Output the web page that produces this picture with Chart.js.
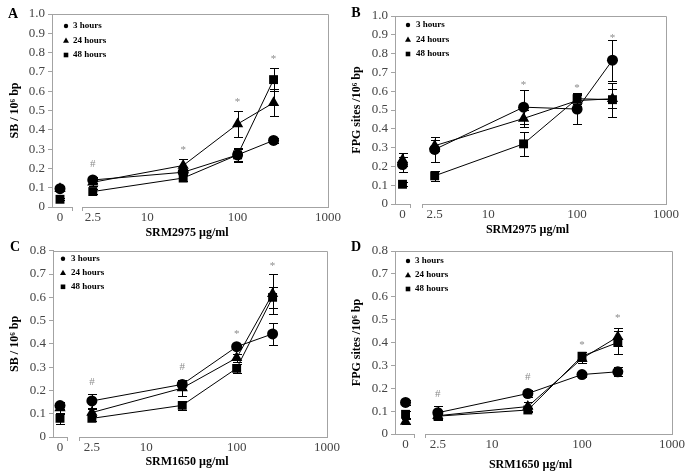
<!DOCTYPE html>
<html>
<head>
<meta charset="utf-8">
<script src="https://cdn.jsdelivr.net/npm/chart.js@4.4.1/dist/chart.umd.min.js"></script>
<style>
  body { margin: 0; background: #fff; width: 685px; height: 474px; position: relative; overflow: hidden; }
  canvas { position: absolute; }
</style>
</head>
<body>
<script>
// doses (µg/ml) - first one sits on the short "0" segment of the broken axis
const doses = [0, 2.5, 25, 100, 250];
const seriesLabels = ['3 hours', '24 hours', '48 hours'];
const logTicks = [2.5, 10, 100, 1000];

// A: SB / 10^6 bp, SRM2975
const sbSrm2975_3h = [0.095, 0.14, 0.18, 0.27, 0.345];
const sbSrm2975_3hErr = [0.012, 0.015, 0.015, 0.03, 0.015];
const sbSrm2975_24h = [0.095, 0.128, 0.215, 0.43, 0.54];
const sbSrm2975_24hErr = [0.01, 0.02, 0.035, 0.065, 0.07];
const sbSrm2975_48h = [0.04, 0.08, 0.15, 0.27, 0.66];
const sbSrm2975_48hErr = [0.005, 0.012, 0.015, 0.035, 0.06];
const sigA = [['#', 2.5, 0.22], ['*', 25, 0.31], ['*', 100, 0.56], ['*', 250, 0.78]];

// B: FPG sites / 10^6 bp, SRM2975
const fpgSrm2975_3h = [0.21, 0.29, 0.515, 0.505, 0.765];
const fpgSrm2975_3hErr = [0.04, 0.065, 0.09, 0.08, 0.11];
const fpgSrm2975_24h = [0.235, 0.31, 0.455, 0.55, 0.56];
const fpgSrm2975_24hErr = [0.035, 0.03, 0.045, 0.03, 0.05];
const fpgSrm2975_48h = [0.105, 0.15, 0.32, 0.56, 0.555];
const fpgSrm2975_48hErr = [0.01, 0.025, 0.065, 0.03, 0.09];
const sigB = [['*', 25, 0.65], ['*', 100, 0.63], ['*', 250, 0.90]];

// C: SB / 10^6 bp, SRM1650
const sbSrm1650_3h = [0.135, 0.155, 0.226, 0.388, 0.443];
const sbSrm1650_3hErr = [0.015, 0.03, 0.02, 0.006, 0.048];
const sbSrm1650_24h = [0.125, 0.105, 0.21, 0.34, 0.615];
const sbSrm1650_24hErr = [0.025, 0.015, 0.035, 0.018, 0.085];
const sbSrm1650_48h = [0.08, 0.08, 0.136, 0.295, 0.60];
const sbSrm1650_48hErr = [0.025, 0.01, 0.02, 0.02, 0.045];
const sigC = [['#', 2.5, 0.235], ['#', 25, 0.3], ['*', 100, 0.455], ['*', 250, 0.745]];

// D: FPG sites / 10^6 bp, SRM1650
const fpgSrm1650_3h = [0.138, 0.093, 0.177, 0.26, 0.272];
const fpgSrm1650_3hErr = [0.01, 0.03, 0.015, 0.01, 0.02];
const fpgSrm1650_24h = [0.055, 0.08, 0.12, 0.33, 0.425];
const fpgSrm1650_24hErr = [0.01, 0.015, 0.02, 0.02, 0.04];
const fpgSrm1650_48h = [0.086, 0.078, 0.105, 0.34, 0.40];
const fpgSrm1650_48hErr = [0.015, 0.01, 0.01, 0.02, 0.05];
const sigD = [['#', 2.5, 0.175], ['#', 25, 0.25], ['*', 100, 0.40], ['*', 250, 0.52]];

const SERIF = "'Liberation Serif', 'Times New Roman', serif";
const GRAY = '#a3a3a3';
const markerStyles = [
  { pointStyle: 'circle', radius: 5.5, order: 0 },
  { pointStyle: 'triangle', radius: 6.5, order: 2 },
  { pointStyle: 'rect', radius: 6.3, order: 1 }
];

function seriesSets(idx, means, errs) {
  const st = markerStyles[idx];
  const pts = doses.map((d, i) => ({ x: d, y: means[i], err: errs[i] }));
  const common = {
    label: seriesLabels[idx], pointStyle: st.pointStyle, pointRadius: st.radius,
    backgroundColor: '#000', borderColor: '#000', borderWidth: 1,
    pointBorderWidth: 0, pointBackgroundColor: '#000', order: st.order
  };
  return [
    Object.assign({}, common, { data: [pts[0]], xAxisID: 'x0', showLine: false }),
    Object.assign({}, common, { data: pts.slice(1), xAxisID: 'x' })
  ];
}

// error bars drawn from each point's err value through the y scale
const errorBars = {
  id: 'errorBars',
  afterDatasetsDraw(chart) {
    const ctx = chart.ctx, ys = chart.scales.y;
    ctx.save();
    ctx.strokeStyle = '#000';
    ctx.lineWidth = 1;
    chart.data.datasets.forEach((ds, i) => {
      chart.getDatasetMeta(i).data.forEach((el, j) => {
        const v = ds.data[j];
        const x = Math.round(el.x) + 0.5;
        const t = Math.round(ys.getPixelForValue(v.y + v.err)) + 0.5;
        const b = Math.round(ys.getPixelForValue(v.y - v.err)) + 0.5;
        ctx.beginPath();
        ctx.moveTo(x, t); ctx.lineTo(x, b);
        ctx.moveTo(x - 4.5, t); ctx.lineTo(x + 4.5, t);
        ctx.moveTo(x - 4.5, b); ctx.lineTo(x + 4.5, b);
        ctx.stroke();
      });
    });
    ctx.restore();
  }
};

function drawMarker(ctx, style, x, y) {
  ctx.beginPath();
  if (style === 'circle') {
    ctx.arc(x, y, 2.2, 0, Math.PI * 2);
  } else if (style === 'triangle') {
    ctx.moveTo(x, y - 3); ctx.lineTo(x + 3, y + 2.2); ctx.lineTo(x - 3, y + 2.2); ctx.closePath();
  } else {
    ctx.rect(x - 2.3, y - 2.3, 4.6, 4.6);
  }
  ctx.fill();
}

function makePanel(p) {
  const [bx, by, bw, bh] = p.box;
  const cv = document.createElement('canvas');
  cv.width = bw; cv.height = bh;
  cv.style.left = bx + 'px'; cv.style.top = by + 'px';
  document.body.appendChild(cv);

  const seg0 = p.x0End - p.L, gap = p.logStart - p.x0End, segLog = p.R - p.logStart;
  const axisH = by + bh - p.B;

  const decor = {
    id: 'decor',
    beforeDatasetsDraw(chart) {
      const ctx = chart.ctx, a = chart.chartArea;
      ctx.save();
      ctx.strokeStyle = GRAY;
      ctx.lineWidth = 1;
      ctx.beginPath();
      ctx.moveTo(a.left, Math.round(a.top) + 0.5);
      ctx.lineTo(Math.round(a.right) + 0.5, Math.round(a.top) + 0.5);
      ctx.lineTo(Math.round(a.right) + 0.5, a.bottom);
      ctx.stroke();
      ctx.restore();
    },
    afterDraw(chart) {
      const ctx = chart.ctx, a = chart.chartArea;
      const xs = chart.scales.x, ys = chart.scales.y;
      ctx.save();
      // panel letter
      ctx.fillStyle = '#000';
      ctx.font = 'bold 14px ' + SERIF;
      ctx.textAlign = 'center';
      ctx.textBaseline = 'middle';
      ctx.fillText(p.letter, p.letterPos[0], p.letterPos[1]);
      // x title
      ctx.font = 'bold 12px ' + SERIF;
      ctx.fillText(p.xTitle, (a.left + a.right) / 2 - 3, p.xTitleY);
      // legend
      ctx.font = 'bold 9px ' + SERIF;
      ctx.textAlign = 'left';
      seriesLabels.forEach((lab, i) => {
        const y = a.top + p.legend.y0 + i * p.legend.dy;
        drawMarker(ctx, markerStyles[i].pointStyle, a.left + p.legend.mx, y);
        ctx.fillText(lab, a.left + p.legend.tx, y);
      });
      // significance marks
      ctx.fillStyle = '#8c8c8c';
      ctx.font = '11px ' + SERIF;
      ctx.textAlign = 'center';
      p.sig.forEach(([t, xv, yv]) => {
        const px = xs.getPixelForValue(xv);
        const py = ys.getPixelForValue(yv);
        ctx.fillText(t, px, t === '*' ? py + 3 : py);
      });
      ctx.restore();
    }
  };

  const tickFont = { family: SERIF, size: 13 };
  return new Chart(cv, {
    type: 'line',
    data: {
      datasets: [
        ...seriesSets(0, p.s3, p.e3),
        ...seriesSets(1, p.s24, p.e24),
        ...seriesSets(2, p.s48, p.e48)
      ]
    },
    options: {
      responsive: false,
      animation: false,
      events: [],
      layout: { padding: { left: 0, top: p.T - by, right: bx + bw - p.R, bottom: 0 } },
      plugins: { legend: { display: false }, tooltip: { enabled: false } },
      scales: {
        y: {
          min: 0, max: p.yMax,
          ticks: { stepSize: 0.1, font: tickFont, color: '#444', padding: 3 },
          grid: { drawOnChartArea: false, tickLength: 4, color: GRAY },
          border: { color: GRAY },
          title: { display: true, text: p.yTitle, color: '#000', font: { family: SERIF, size: 12, weight: 'bold' }, padding: { top: 8, bottom: 0 } },
          afterFit(s) { s.width = p.L - bx; }
        },
        x0: {
          type: 'linear', position: 'bottom', stack: 'xs', stackWeight: seg0,
          min: -1, max: p.x0Max,
          afterBuildTicks(s) { s.ticks = [{ value: 0 }, { value: p.x0Max }]; },
          ticks: { font: tickFont, color: '#444', padding: -1, autoSkip: false, maxRotation: 0,
            callback: v => (v === 0 ? '0' : '') },
          grid: { drawOnChartArea: false, tickLength: 4, color: c => (c.tick && c.tick.value === 0 ? 'rgba(0,0,0,0)' : GRAY) },
          border: { color: GRAY },
          afterFit(s) { s.height = axisH; }
        },
        xgap: {
          type: 'linear', position: 'bottom', stack: 'xs', stackWeight: gap, display: false
        },
        x: {
          type: 'logarithmic', position: 'bottom', stack: 'xs', stackWeight: segLog,
          min: p.logMin, max: 1000,
          afterBuildTicks(s) { s.ticks = [{ value: p.logMin }, ...logTicks.map(v => ({ value: v }))]; },
          ticks: { font: tickFont, color: '#444', padding: -1, autoSkip: false, maxRotation: 0,
            callback: v => (v === p.logMin ? '' : String(v)) },
          grid: { drawOnChartArea: false, tickLength: 4, color: c => (c.tick && c.tick.value === p.logMin ? GRAY : 'rgba(0,0,0,0)') },
          border: { color: GRAY },
          afterFit(s) { s.height = axisH; }
        }
      }
    },
    plugins: [decor, errorBars]
  });
}

makePanel({
  box: [0, 0, 342, 240], L: 52, T: 14, R: 328, B: 207,
  x0End: 72, x0Max: 1.5, logStart: 82, logMin: 1.9, yMax: 1,
  letter: 'A', letterPos: [13, 14], xTitle: 'SRM2975 µg/ml', xTitleY: 233,
  yTitle: 'SB / 10⁶ bp', legend: { mx: 14, tx: 21, y0: 12, dy: 14.5 },
  s3: sbSrm2975_3h, e3: sbSrm2975_3hErr, s24: sbSrm2975_24h, e24: sbSrm2975_24hErr,
  s48: sbSrm2975_48h, e48: sbSrm2975_48hErr, sig: sigA
});
makePanel({
  box: [342, 0, 343, 240], L: 395, T: 16, R: 666, B: 204,
  x0End: 410, x0Max: 1, logStart: 422, logMin: 1.8, yMax: 1,
  letter: 'B', letterPos: [14, 13], xTitle: 'SRM2975 µg/ml', xTitleY: 230,
  yTitle: 'FPG sites /10⁶ bp', legend: { mx: 13, tx: 21, y0: 9, dy: 14.5 },
  s3: fpgSrm2975_3h, e3: fpgSrm2975_3hErr, s24: fpgSrm2975_24h, e24: fpgSrm2975_24hErr,
  s48: fpgSrm2975_48h, e48: fpgSrm2975_48hErr, sig: sigB
});
makePanel({
  box: [0, 240, 342, 234], L: 53, T: 249, R: 327, B: 437,
  x0End: 67, x0Max: 1, logStart: 79, logMin: 1.8, yMax: 0.8,
  letter: 'C', letterPos: [15, 7], xTitle: 'SRM1650 µg/ml', xTitleY: 222,
  yTitle: 'SB / 10⁶ bp', legend: { mx: 10, tx: 18, y0: 8, dy: 14 },
  s3: sbSrm1650_3h, e3: sbSrm1650_3hErr, s24: sbSrm1650_24h, e24: sbSrm1650_24hErr,
  s48: sbSrm1650_48h, e48: sbSrm1650_48hErr, sig: sigC
});
makePanel({
  box: [342, 240, 343, 234], L: 395, T: 251, R: 672, B: 434,
  x0End: 414, x0Max: 0.8, logStart: 425, logMin: 1.8, yMax: 0.8,
  letter: 'D', letterPos: [14, 7], xTitle: 'SRM1650 µg/ml', xTitleY: 225,
  yTitle: 'FPG sites /10⁶ bp', legend: { mx: 13, tx: 20, y0: 10, dy: 14 },
  s3: fpgSrm1650_3h, e3: fpgSrm1650_3hErr, s24: fpgSrm1650_24h, e24: fpgSrm1650_24hErr,
  s48: fpgSrm1650_48h, e48: fpgSrm1650_48hErr, sig: sigD
});
</script>
</body>
</html>
